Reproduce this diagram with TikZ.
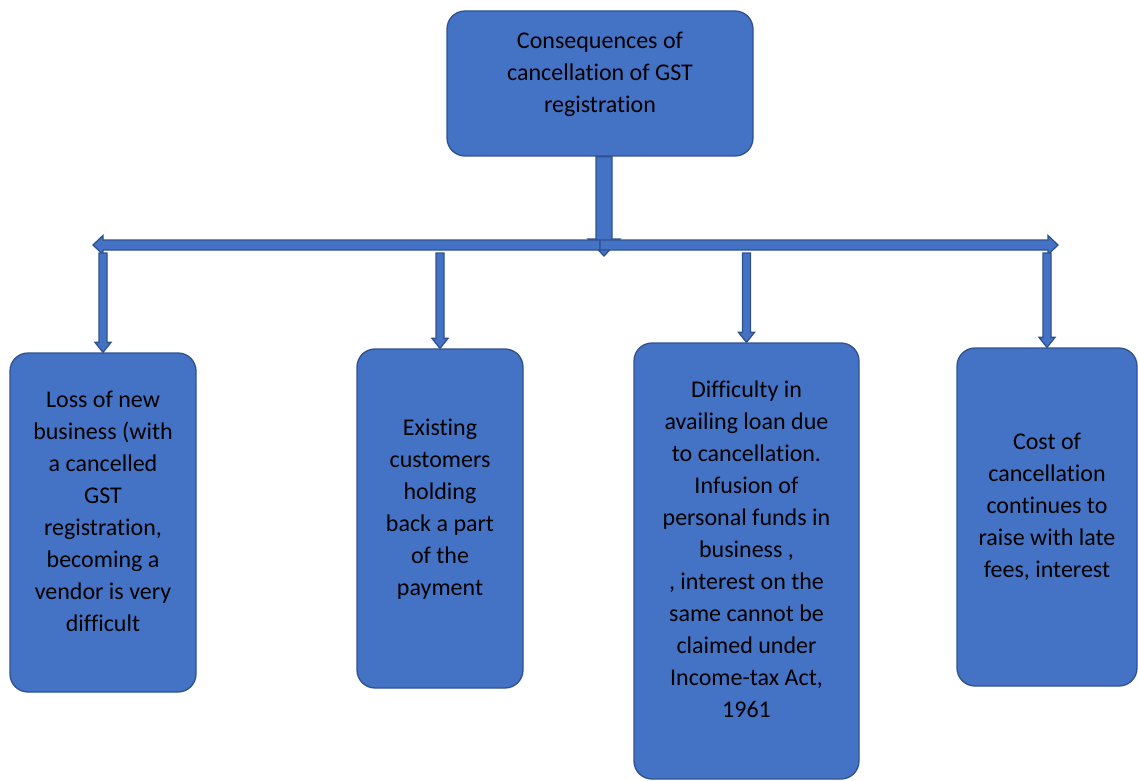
\documentclass[tikz,border=0pt]{standalone}
\usepackage{fontspec}
\setmainfont{Carlito}[Ligatures=NoCommon]
\usetikzlibrary{calc, backgrounds}
\definecolor{gstFill}{HTML}{4472C4}
\definecolor{gstEdge}{HTML}{2F528F}

% block arrow: from, to, shaft half width, head half width, head length
\newcommand{\blockarrow}[5]{%
  \coordinate (ba-base) at ($(#2)!#5!(#1)$);
  \draw[barrow] ($(#1)!#3!90:(#2)$) -- ($(ba-base)!#3!90:(#2)$) -- ($(ba-base)!#4!90:(#2)$)
    -- (#2) -- ($(ba-base)!#4!-90:(#2)$) -- ($(ba-base)!#3!-90:(#2)$) -- ($(#1)!#3!-90:(#2)$) -- cycle;}

\begin{document}
\begin{tikzpicture}[x=1pt, y=-1pt,
        box/.style={draw=gstEdge, line width=1.3pt, fill=gstFill, text=black,
                    rounded corners=18pt, align=center, inner sep=4pt, text depth=23pt,
                    font=\fontsize{24}{32}\selectfont},
        barrow/.style={draw=gstEdge, line width=1.3pt, fill=gstFill, line join=miter}]
        \useasboundingbox (0,0) rectangle (1138,781);
        \node[box, minimum width=306pt, minimum height=145pt] (root) at (600,83.5)
          {Consequences of\\cancellation of GST\\registration};
        \node[box, minimum width=186pt, minimum height=339pt] (b1) at (103,522.5)
          {Loss of new\\business (with\\a cancelled\\GST\\registration,\\becoming a\\vendor is very\\difficult};
        \node[box, minimum width=166pt, minimum height=339pt] (b2) at (440,518.5)
          {Existing\\customers\\holding\\back a part\\of the\\payment};
        \node[box, minimum width=225pt, minimum height=436pt] (b3) at (746.5,561)
          {Difficulty in\\availing loan due\\to cancellation.\\Infusion of\\personal funds in\\business ,\\, interest on the\\same cannot be\\claimed under\\Income-tax Act,\\1961};
        \node[box, minimum width=180pt, minimum height=338pt] (b4) at (1047,517)
          {Cost of\\cancellation\\continues to\\raise with late\\fees, interest};
        \coordinate (hub) at (600,245);
        \coordinate (barL) at (93,245);
        \coordinate (barR) at (1058,245);
        \coordinate (stem) at (604,256);
        \coordinate (stemtop) at (root.south -| stem);
        \coordinate (drop) at (0,253);
        \blockarrow{stemtop}{stem}{8pt}{16pt}{17pt}
        \blockarrow{hub}{barL}{5pt}{9.5pt}{10pt}
        \blockarrow{hub}{barR}{5pt}{9.5pt}{10pt}
        \foreach \b in {b1,b2,b3,b4} {
          \coordinate (\b-top) at (\b.north |- drop);
          \blockarrow{\b-top}{\b.north}{4pt}{8pt}{10pt}
        }
      \end{tikzpicture}
\end{document}
